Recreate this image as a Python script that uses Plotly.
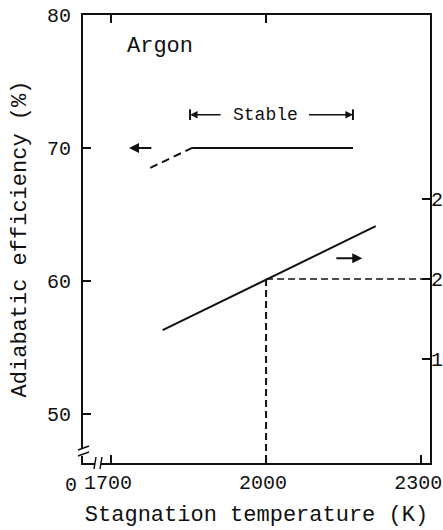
import plotly.graph_objects as go

# ---- data ----
eff_dash_T = [1776, 1857]          # dashed part of efficiency curve
eff_dash_val = [68.5, 70.0]
eff_solid_T = [1857, 2168]         # solid (stable) part
eff_solid_val = [70.0, 70.0]
right_T = [1800, 2212]             # rising line (right axis)
right_val = [16.8, 23.3]
ref_T = 2000                       # reference temperature
ref_val = 20                       # right-axis value at reference
stable_range = [1853, 2168]

x_ticks = [1700, 2000, 2300]
x_tick_labels = ["1700", "2000", "2300"]
y_left_ticks = [50, 60, 70, 80]
y_right_ticks = [15, 20, 25]
y_right_labels = ["15", "20", "25"]

X_RANGE = [1646, 2317]
Y_RANGE = [46.3, 80]
Y2_RANGE = [8.5, 36.5]

FONT = "Liberation Mono, Courier New, monospace"
BLACK = "#111"

fig = go.Figure()
fig.add_trace(go.Scatter(x=eff_dash_T, y=eff_dash_val, mode="lines",
                         line=dict(color=BLACK, width=2, dash="8px,5px"),
                         showlegend=False, hoverinfo="skip"))
fig.add_trace(go.Scatter(x=eff_solid_T, y=eff_solid_val, mode="lines",
                         line=dict(color=BLACK, width=2),
                         showlegend=False, hoverinfo="skip"))
fig.add_trace(go.Scatter(x=right_T, y=right_val, mode="lines", yaxis="y2",
                         line=dict(color=BLACK, width=2),
                         showlegend=False, hoverinfo="skip"))
fig.add_trace(go.Scatter(x=[ref_T, ref_T], y=[ref_val, Y2_RANGE[0]], mode="lines",
                         yaxis="y2", line=dict(color=BLACK, width=2, dash="7px,4px"),
                         showlegend=False, hoverinfo="skip"))
fig.add_trace(go.Scatter(x=[ref_T, X_RANGE[1]], y=[ref_val, ref_val], mode="lines",
                         yaxis="y2", line=dict(color=BLACK, width=1.5, dash="7px,4px"),
                         showlegend=False, hoverinfo="skip"))
# invisible trace on top x axis for top ticks
fig.add_trace(go.Scatter(x=[X_RANGE[0]], y=[Y_RANGE[0]], xaxis="x2", mode="markers",
                         marker=dict(opacity=0), showlegend=False, hoverinfo="skip"))

ann = []
ann.append(dict(x=1795, y=77.6, xref="x", yref="y", text="Argon", showarrow=False,
                font=dict(family=FONT, size=22, color=BLACK)))
ann.append(dict(x=1998, y=72.5, xref="x", yref="y", text="Stable", showarrow=False,
                font=dict(family=FONT, size=18, color=BLACK)))
ann.append(dict(x=stable_range[0], y=72.5, ax=1915, ay=72.5, xref="x", yref="y",
                axref="x", ayref="y", text="", showarrow=True, arrowhead=2,
                arrowsize=1, arrowwidth=1.5, arrowcolor=BLACK))
ann.append(dict(x=stable_range[1], y=72.5, ax=2080, ay=72.5, xref="x", yref="y",
                axref="x", ayref="y", text="", showarrow=True, arrowhead=2,
                arrowsize=1, arrowwidth=1.5, arrowcolor=BLACK))
ann.append(dict(x=1735, y=70, ax=1781, ay=70, xref="x", yref="y",
                axref="x", ayref="y", text="", showarrow=True, arrowhead=2,
                arrowsize=1, arrowwidth=2, arrowcolor=BLACK))
ann.append(dict(x=2186, y=21.3, ax=2133, ay=21.3, xref="x", yref="y2",
                axref="x", ayref="y2", text="", showarrow=True, arrowhead=2,
                arrowsize=1, arrowwidth=2, arrowcolor=BLACK))
ann.append(dict(x=-0.058, y=0, xref="paper", yref="paper", yanchor="top", yshift=-9,
                text="0", showarrow=False, font=dict(family=FONT, size=20, color=BLACK)))

shapes = []
for t in stable_range:
    shapes.append(dict(type="line", xref="x", yref="y", x0=t, x1=t, y0=72.1, y1=72.9,
                       line=dict(color=BLACK, width=2)))


def px2paper(px, py):
    return (px - 83) / 347, (463 - py) / 448


bx0, by0 = px2paper(80, 456)
bx1, by1 = px2paper(87, 448)
shapes.append(dict(type="rect", xref="paper", yref="paper", x0=bx0, x1=bx1, y0=by0, y1=by1,
                   fillcolor="white", line=dict(width=0), layer="above"))
for oy in (448, 454):
    a = px2paper(78, oy + 2)
    b = px2paper(89, oy - 2)
    shapes.append(dict(type="line", xref="paper", yref="paper", x0=a[0], y0=a[1],
                       x1=b[0], y1=b[1], line=dict(color=BLACK, width=1.5), layer="above"))
gx0, gy0 = px2paper(95, 467)
gx1, gy1 = px2paper(101, 459)
shapes.append(dict(type="rect", xref="paper", yref="paper", x0=gx0, x1=gx1, y0=gy0, y1=gy1,
                   fillcolor="white", line=dict(width=0), layer="above"))
for ox in (95, 101):
    a = px2paper(ox - 1, 469)
    b = px2paper(ox + 1, 457)
    shapes.append(dict(type="line", xref="paper", yref="paper", x0=a[0], y0=a[1],
                       x1=b[0], y1=b[1], line=dict(color=BLACK, width=1.5), layer="above"))

tickfont = dict(family=FONT, size=20, color=BLACK)
fig.update_layout(
    width=443, height=530,
    margin=dict(l=83, r=13, t=15, b=67, autoexpand=False),
    paper_bgcolor="white", plot_bgcolor="white",
    showlegend=False,
    annotations=ann, shapes=shapes,
    xaxis=dict(range=X_RANGE, tickvals=x_ticks, ticktext=x_tick_labels,
               ticks="inside", ticklen=8, tickwidth=2, tickcolor=BLACK,
               showline=True, linecolor=BLACK, linewidth=2, mirror=True,
               showgrid=False, zeroline=False, tickfont=tickfont, automargin=False,
               ticklabeloverflow="allow", ticklabelshift=-3,
               title=dict(text="Stagnation temperature (K)", standoff=12,
                          font=dict(family=FONT, size=22, color=BLACK))),
    xaxis2=dict(range=X_RANGE, overlaying="x", side="top", tickvals=[1700, 2000],
                ticks="inside", ticklen=8, tickwidth=2, tickcolor=BLACK, automargin=False,
                showticklabels=False, showgrid=False, zeroline=False, showline=False),
    yaxis=dict(range=Y_RANGE, tickvals=y_left_ticks, ticks="inside", ticklen=8,
               tickwidth=2, tickcolor=BLACK, showline=True, linecolor=BLACK,
               linewidth=2, mirror=True, showgrid=False, zeroline=False,
               tickfont=tickfont, ticklabelstandoff=6, automargin=False,
               title=dict(text="Adiabatic efficiency (%)", standoff=14,
                          font=dict(family=FONT, size=22, color=BLACK))),
    yaxis2=dict(range=Y2_RANGE, overlaying="y", side="right", tickvals=y_right_ticks,
                ticktext=y_right_labels, ticks="inside", ticklen=8, tickwidth=2,
                tickcolor=BLACK, showgrid=False, zeroline=False, showline=False,
                tickfont=tickfont, ticklabelstandoff=0, automargin=False,
                ticklabeloverflow="allow"),
)

fig.write_html("out.html")
